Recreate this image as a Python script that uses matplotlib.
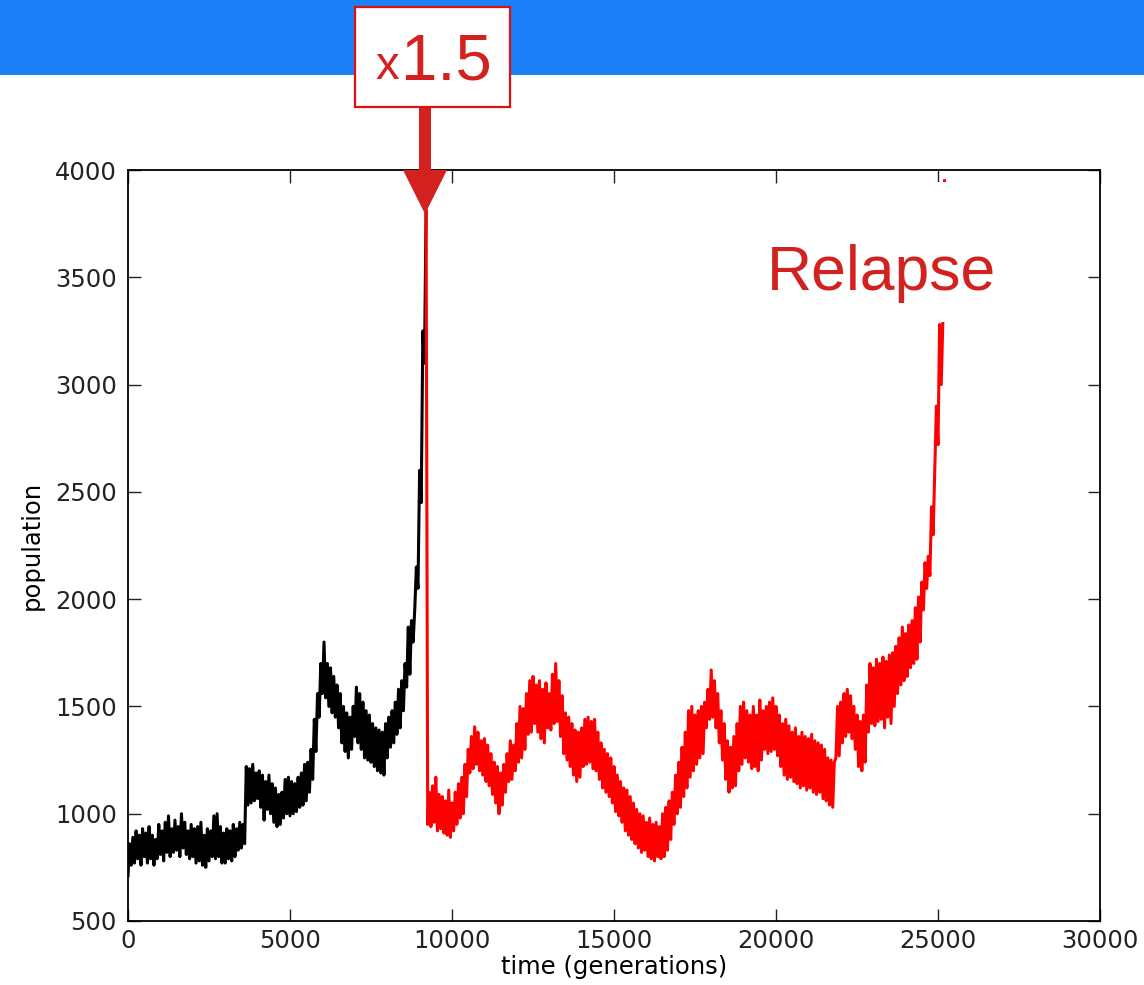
import numpy as np
import matplotlib
matplotlib.use("Agg")
import matplotlib.pyplot as plt
from matplotlib.patches import Rectangle, Polygon

# population sampled every 50 generations
step = 50

# before the dose increase (generation 0 .. 9200)
pop_before = [
    710, 860, 760, 890, 770, 920, 790, 900, 760, 930,
    800, 910, 770, 940, 790, 900, 760, 880, 790, 950,
    810, 920, 780, 960, 820, 990, 800, 930, 820, 970,
    830, 940, 800, 1000, 840, 960, 810, 920, 790, 950,
    800, 930, 770, 940, 780, 960, 760, 900, 750, 930,
    780, 920, 800, 990, 790, 1000, 800, 940, 770, 910,
    770, 930, 790, 920, 780, 950, 800, 930, 830, 960,
    840, 950, 860, 1220, 1040, 1210, 1050, 1230, 1060, 1190,
    1070, 1200, 1030, 1180, 970, 1150, 1020, 1180, 1000, 1140,
    960, 1120, 940, 1090, 950, 1100, 980, 1160, 1000, 1170,
    990, 1150, 1000, 1140, 1010, 1170, 1030, 1190, 1040, 1230,
    1060, 1240, 1100, 1300, 1160, 1440, 1290, 1560, 1450, 1700,
    1560, 1800, 1540, 1700, 1500, 1680, 1470, 1640, 1450, 1600,
    1400, 1560, 1330, 1500, 1290, 1470, 1260, 1450, 1300, 1500,
    1360, 1590, 1330, 1560, 1300, 1520, 1260, 1480, 1250, 1460,
    1240, 1420, 1220, 1400, 1200, 1390, 1190, 1380, 1180, 1420,
    1260, 1450, 1310, 1480, 1330, 1520, 1370, 1580, 1400, 1620,
    1480, 1700, 1590, 1870, 1650, 1900, 1800, 1950, 2150, 2050,
    2600, 2450, 3250, 3100, 3810,
]

# after the x1.5 dose (generation 9200 .. 25200)
pop_after = [
    3810, 950, 1100, 940, 1130, 960, 1170, 920, 1090, 930,
    1080, 910, 1060, 900, 1110, 890, 1050, 920, 1100, 950,
    1140, 980, 1170, 1000, 1230, 1080, 1300, 1190, 1360, 1210,
    1405, 1230, 1380, 1200, 1340, 1180, 1350, 1150, 1320, 1130,
    1280, 1090, 1240, 1050, 1220, 1000, 1190, 1040, 1230, 1100,
    1280, 1150, 1340, 1160, 1320, 1200, 1420, 1240, 1500, 1260,
    1490, 1300, 1560, 1370, 1620, 1380, 1640, 1420, 1600, 1380,
    1620, 1350, 1580, 1330, 1610, 1400, 1560, 1390, 1650, 1420,
    1700, 1430, 1620, 1360, 1550, 1280, 1470, 1250, 1450, 1220,
    1420, 1180, 1390, 1150, 1380, 1170, 1400, 1220, 1440, 1230,
    1450, 1240, 1430, 1210, 1440, 1200, 1380, 1160, 1330, 1120,
    1300, 1100, 1280, 1080, 1260, 1050, 1220, 1010, 1180, 990,
    1150, 960, 1120, 920, 1110, 900, 1080, 880, 1050, 860,
    1020, 840, 1000, 820, 990, 830, 960, 800, 980, 790,
    950, 780, 960, 800, 940, 790, 1000, 800, 1030, 830,
    1060, 880, 1100, 950, 1180, 1000, 1240, 1030, 1310, 1080,
    1380, 1120, 1480, 1170, 1500, 1200, 1460, 1230, 1480, 1260,
    1500, 1280, 1520, 1400, 1580, 1440, 1670, 1450, 1620, 1400,
    1560, 1330, 1480, 1250, 1420, 1160, 1340, 1100, 1310, 1120,
    1360, 1130, 1420, 1200, 1500, 1230, 1520, 1260, 1480, 1240,
    1460, 1210, 1500, 1220, 1460, 1200, 1530, 1250, 1480, 1300,
    1500, 1280, 1520, 1290, 1540, 1300, 1500, 1270, 1460, 1220,
    1420, 1180, 1440, 1160, 1410, 1170, 1380, 1150, 1400, 1140,
    1360, 1120, 1380, 1130, 1360, 1110, 1350, 1120, 1370, 1100,
    1340, 1090, 1330, 1100, 1320, 1070, 1300, 1060, 1260, 1040,
    1250, 1030, 1240, 1260, 1500, 1270, 1520, 1330, 1560, 1360,
    1580, 1380, 1550, 1350, 1500, 1300, 1460, 1220, 1430, 1200,
    1460, 1240, 1600, 1380, 1700, 1420, 1680, 1410, 1720, 1430,
    1700, 1440, 1730, 1400, 1710, 1450, 1740, 1420, 1750, 1500,
    1780, 1560, 1820, 1600, 1870, 1620, 1840, 1640, 1880, 1680,
    1900, 1700, 1960, 1720, 2010, 1800, 2080, 1950, 2170, 2050,
    2200, 2110, 2430, 2300, 2600, 2900, 2720, 3280, 3000, 3300,
    3950,
]

t_before = np.arange(len(pop_before)) * step
t_after = t_before[-1] + np.arange(len(pop_after)) * step

W, H = 1144, 985
fig = plt.figure(figsize=(W / 100, H / 100), dpi=100)


def px(x, y):
    # pixel position measured from the top-left corner -> figure fraction
    return x / W, 1 - y / H


# blue header strip
fig.patches.append(Rectangle(px(0, 75), 1, 75 / H, transform=fig.transFigure,
                             facecolor="#1c80f8", edgecolor="none", zorder=0))

ax = fig.add_axes([128 / W, 1 - 921 / H, 972 / W, 751 / H])
ax.plot(t_before, pop_before, color="black", lw=2.2)
ax.plot(t_after, pop_after, color="red", lw=2.2)

ax.set_xlim(0, 30000)
ax.set_ylim(500, 4000)
ax.set_xticks(np.arange(0, 30001, 5000))
ax.set_yticks(np.arange(500, 4001, 500))
ax.tick_params(direction="in", top=True, right=True, length=9, width=1,
               labelsize=17.5, colors="#222222", labelcolor="#222222")
ax.tick_params(axis="x", pad=6)
ax.tick_params(axis="y", pad=8)
for s in ax.spines.values():
    s.set_linewidth(1.3)
ax.set_xlabel("time (generations)", fontsize=17.5, labelpad=1)
ax.set_ylabel("population", fontsize=17.5, labelpad=8)

# white patch behind the label in the upper right
ax.add_patch(Rectangle((0.715, 0.798), 0.27, 0.186, transform=ax.transAxes,
                       facecolor="white", edgecolor="none", zorder=5))

red = "#d3211f"
fig.text(*px(881, 290), "Relapse", fontsize=45, color=red, ha="center",
         va="baseline", family="Liberation Sans", zorder=6)

# dose box and arrow
bx0, by0 = px(355, 107)
fig.patches.append(Rectangle((bx0, by0), 155 / W, 100 / H, transform=fig.transFigure,
                             facecolor="white", edgecolor="#e01010", lw=1.6, zorder=3))
fig.text(*px(375, 79), "x", fontsize=34, color=red, ha="left", va="baseline",
         family="Liberation Sans", zorder=4)
fig.text(*px(401, 79), "1.5", fontsize=47, color=red, ha="left", va="baseline",
         family="Liberation Sans", zorder=4)

arrow = [px(419, 108), px(431, 108), px(431, 170), px(447, 170),
         px(425, 214), px(403, 170), px(419, 170)]
fig.patches.append(Polygon(arrow, closed=True, transform=fig.transFigure,
                           facecolor=red, edgecolor="none", zorder=10))

fig.savefig("out.png", dpi=100)
